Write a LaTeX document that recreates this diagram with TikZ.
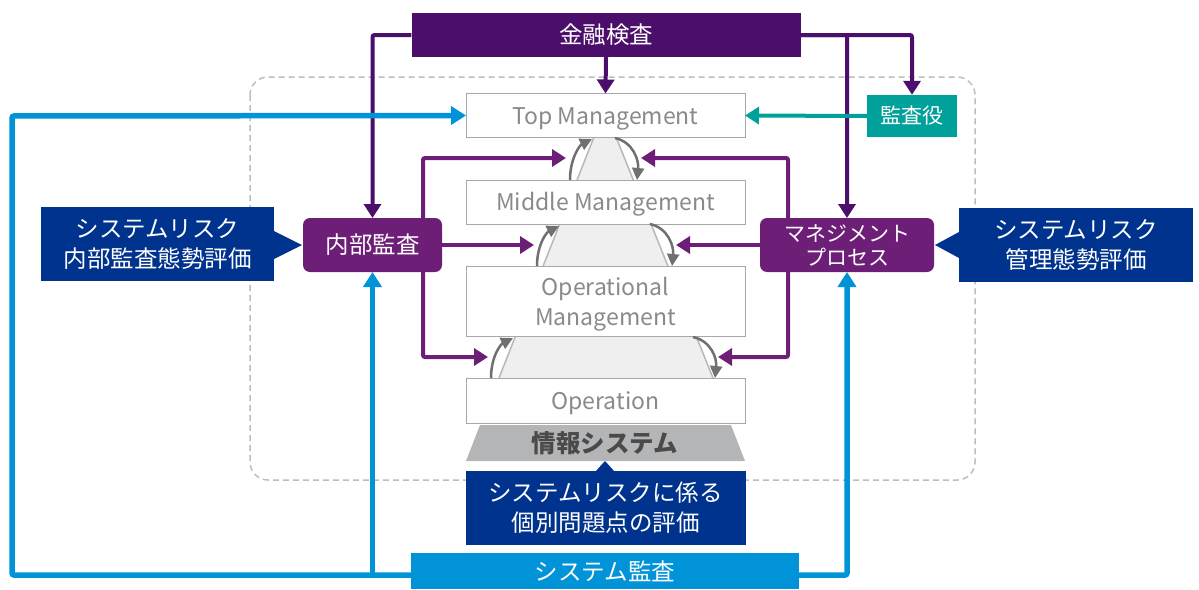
\documentclass[tikz,border=0pt]{standalone}
\usepackage{fontspec}
\setmainfont{Noto Sans CJK JP}
\usetikzlibrary{arrows.meta}
\definecolor{kinc}{HTML}{4B0E6A}
\definecolor{purp}{HTML}{6D1F77}
\definecolor{dblue}{HTML}{00338D}
\definecolor{tealc}{HTML}{00A19A}
\definecolor{sblue}{HTML}{0093D8}
\definecolor{gbord}{HTML}{A8A8A8}
\definecolor{gtext}{HTML}{8A8A8A}
\definecolor{pyrfill}{HTML}{EFEFEF}
\definecolor{pyredge}{HTML}{B8B8B8}
\definecolor{garr}{HTML}{707070}
\definecolor{isysc}{HTML}{B4B5B7}
\definecolor{isyst}{HTML}{4A4A4A}
\definecolor{dashc}{HTML}{BDBDBD}
\begin{document}
\begin{tikzpicture}[x=1pt,y=-1pt,
  fbig/.style={font=\fontsize{23.5pt}{30pt}\selectfont},
  fmid/.style={font=\fontsize{21pt}{24pt}\selectfont},
  flat/.style={font=\fontsize{23pt}{30pt}\selectfont},
  gbox/.style={draw=gbord, fill=white, text=gtext, line width=1pt, inner sep=0pt, outer sep=0pt, minimum width=279pt, flat, align=center, text height=17pt, text depth=0pt},
  dbox/.style={fill=dblue, text=white, inner sep=0pt, outer sep=0pt, fbig, align=center},
  pbox/.style={fill=purp, text=white, rounded corners=7pt, inner sep=0pt, outer sep=0pt, align=center},
  karrow/.style={draw=kinc, line width=4pt, rounded corners=2pt, -{Triangle[length=14pt,width=17pt]}},
  parrow/.style={draw=purp, line width=4pt, rounded corners=2pt, -{Triangle[length=14pt,width=17pt]}},
  tarrow/.style={draw=tealc, line width=4pt, -{Triangle[length=14pt,width=17pt]}},
  barrow/.style={draw=sblue, line width=5.5pt, rounded corners=2pt, -{Triangle[length=15pt,width=18pt]}},
  garrow/.style={draw=garr, line width=2.5pt, -{Triangle[length=12pt,width=12pt]}}
]
\useasboundingbox (0,0) rectangle (1199,589);

% dashed frame
\draw[dashc, line width=1.5pt, dash pattern=on 6pt off 4pt, rounded corners=18pt] (250,77) rectangle (975,480);

% pyramid
\fill[pyrfill] (594,137) -- (616,137) -- (713,378) -- (499,378) -- cycle;
\draw[pyredge, line width=1.5pt] (594,137) -- (499,378);
\draw[pyredge, line width=1.5pt] (616,137) -- (713,378);

% nodes
\node[fill=kinc, text=white, minimum width=389pt, minimum height=44pt, inner sep=0pt, fbig] (kin) at (606,35) {金融検査};
\node[gbox, minimum height=44pt] (top) at (605.5,115.5) {Top Management};
\node[gbox, minimum height=44pt] (mid) at (605.5,202) {Middle Management};
\node[gbox, minimum height=70pt, text height=48pt] (opm) at (605.5,301) {Operational\\Management};
\node[gbox, minimum height=45pt] (op) at (605.5,400.5) {Operation};
\node[fill=tealc, text=white, minimum width=90pt, minimum height=42pt, inner sep=0pt, fmid] (kan) at (912,116) {監査役};
\node[dbox, minimum width=233pt, minimum height=74pt] (lb) at (157.5,244) {システムリスク\\内部監査態勢評価};
\node[dbox, minimum width=234pt, minimum height=74pt] (rb) at (1076,245) {システムリスク\\管理態勢評価};
\node[dbox, minimum width=280pt, minimum height=74pt] (ev) at (605.5,508) {システムリスクに係る\\個別問題点の評価};
\node[fill=sblue, text=white, minimum width=388pt, minimum height=36pt, inner sep=0pt, fbig] (sa) at (605,571) {システム監査};

% callout pointers
\fill[dblue] (274,231) -- (302,245) -- (274,259) -- cycle;
\fill[dblue] (959,232) -- (935,245) -- (959,258) -- cycle;
\fill[dblue] (595,472) -- (605,461) -- (615,472) -- cycle;

% information system
\fill[isysc] (480,425) -- (731,425) -- (745,461) -- (466,461) -- cycle;
\node[text=isyst, font=\fontsize{24.5pt}{27pt}\selectfont\bfseries] (isys) at (605,443) {情報システム};

% gray cycle arrows
\coordinate (a1s) at (570,180); \coordinate (a1e) at (592,139);
\coordinate (b1s) at (615,138); \coordinate (b1e) at (637,180);
\coordinate (a2s) at (537,266); \coordinate (a2e) at (559,226);
\coordinate (b2s) at (650,224); \coordinate (b2e) at (672,266);
\coordinate (a3s) at (491,378); \coordinate (a3e) at (513,338);
\coordinate (b3s) at (693,337); \coordinate (b3e) at (715,378);
\foreach \i in {1,2,3}{
  \draw[garrow] (a\i s) .. controls +(0,-22) and +(-12,6) .. (a\i e);
  \draw[garrow] (b\i s) .. controls +(18,4) and +(2,-20) .. (b\i e);
}

% purple arrows
\coordinate (L1) at (566,158); \coordinate (L2) at (534,245); \coordinate (L3) at (488,357);
\coordinate (R1) at (641,158); \coordinate (R2) at (676,245); \coordinate (R3) at (718,357);
\coordinate (iav) at (423,245); \coordinate (mpv) at (788,245);
\draw[parrow] (iav) |- (L1);
\draw[parrow] (iav) |- (L3);
\draw[parrow] (iav) -- (L2);
\draw[parrow] (mpv) |- (R1);
\draw[parrow] (mpv) |- (R3);
\draw[parrow] (mpv) -- (R2);

% boxes over the vertical lines
\node[pbox, minimum width=139pt, minimum height=54pt, fbig] (ia) at (372.5,245) {内部監査};
\node[pbox, minimum width=174pt, minimum height=54pt, fmid] (mp) at (847,245) {マネジメント\\プロセス};

% financial inspection arrows
\draw[karrow] (kin.west) -| (ia.north);
\draw[karrow] (kin.east) -| (kan.north);
\draw[karrow] (kin.east) -| (mp.north);
\draw[karrow] (kin.south) -- (top.north);

% teal
\draw[tarrow] (kan.west) -- (top.east);

% blue system audit
\coordinate (saL) at (411,575); \coordinate (saR) at (799,575); \coordinate (bc) at (12,116);
\draw[barrow] (saL) -| (bc) -- (top.west);
\draw[barrow] (ia.south |- saL) -- (ia.south);
\draw[barrow] (saR) -| (mp.south);
\end{tikzpicture}
\end{document}
